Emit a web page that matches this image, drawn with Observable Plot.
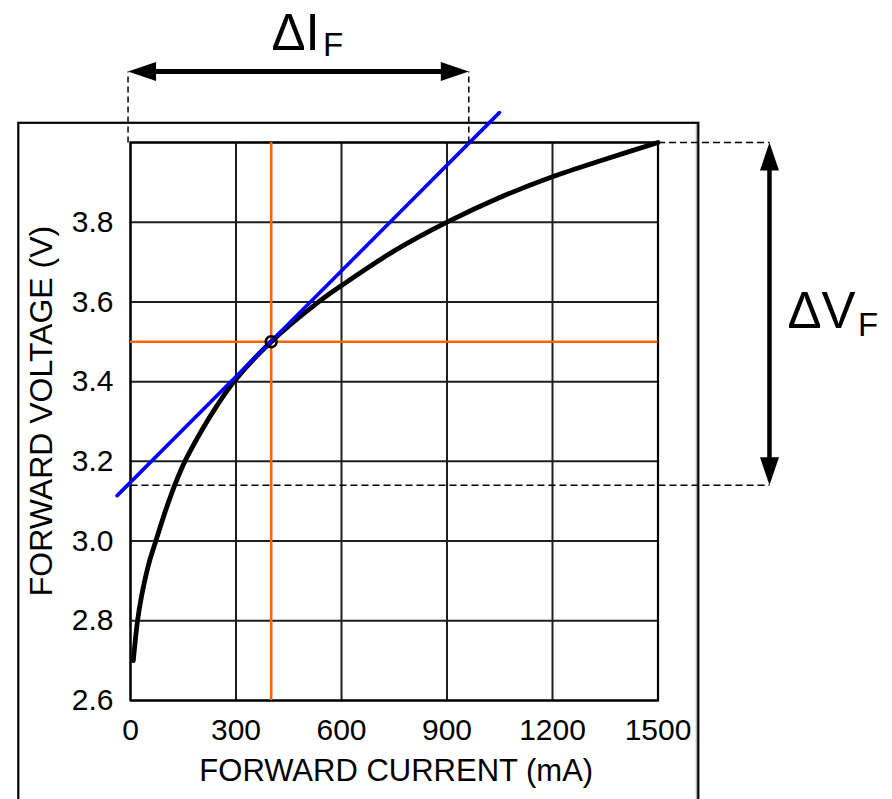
<!DOCTYPE html>
<html>
<head>
<meta charset="utf-8">
<script src="https://cdn.jsdelivr.net/npm/d3@7"></script>
<script src="https://cdn.jsdelivr.net/npm/@observablehq/plot@0.6"></script>
<style>
  html, body { margin: 0; padding: 0; background: #fff; overflow: hidden; }
  #chart svg { display: block; }
</style>
</head>
<body>
<div id="chart"></div>
<script>
// ---- Data ----
const currents = [8, 20, 31, 52, 72, 98, 124, 152, 204, 246, 294, 400, 535, 600, 750, 900, 1050, 1200, 1350, 1500];
const voltages = [2.70, 2.80, 2.86, 2.943, 3.0, 3.072, 3.136, 3.195, 3.28, 3.340, 3.4, 3.5, 3.6, 3.641, 3.728, 3.8, 3.862, 3.914, 3.958, 4.0];

const xTicks = [0, 300, 600, 900, 1200, 1500];
const yTicks = [2.6, 2.8, 3.0, 3.2, 3.4, 3.6, 3.8];
const yGrid = [2.6, 2.8, 3.0, 3.2, 3.4, 3.6, 3.8, 4.0];

const opCurrent = [400];
const opVoltage = [3.5];

const tangentI = [-38, 1049];
const tangentV = [3.114, 4.075];

const deltaIRange = [-7, 962];     // mA, where the tangent meets 3.14 V and 4.0 V
const deltaVRange = [3.14, 4.0];   // V
const deltaIArrowLevel = 4.178;    // V (annotation level above the plot)
const deltaVArrowLevel = 1817;     // mA (annotation level right of the plot)

const xTitle = "FORWARD CURRENT (mA)";
const yTitle = "FORWARD VOLTAGE (V)";

// ---- Build tables ----
const curve = currents.map((c, i) => ({i: c, v: voltages[i]}));
const tangent = tangentI.map((c, i) => ({i: c, v: tangentV[i]}));
const op = opCurrent.map((c, k) => ({i: c, v: opVoltage[k]}));

const W = 892, H = 799;
const mL = 130, mR = 234.5, mT = 142, mB = 99;
const mAperPx = 1500 / (W - mL - mR);
const VperPx = 1.4 / (H - mT - mB);
const headLen = 28, headHalf = 9.5;

const headRight = {draw(ctx) { ctx.moveTo(0, 0); ctx.lineTo(-headLen, -headHalf); ctx.lineTo(-headLen, headHalf); ctx.closePath(); }};
const headLeft  = {draw(ctx) { ctx.moveTo(0, 0); ctx.lineTo(headLen, -headHalf); ctx.lineTo(headLen, headHalf); ctx.closePath(); }};
const headUp    = {draw(ctx) { ctx.moveTo(0, 0); ctx.lineTo(-headHalf, headLen); ctx.lineTo(headHalf, headLen); ctx.closePath(); }};
const headDown  = {draw(ctx) { ctx.moveTo(0, 0); ctx.lineTo(-headHalf, -headLen); ctx.lineTo(headHalf, -headLen); ctx.closePath(); }};

const dashedV = deltaIRange.map(x => ({x1: x, x2: x, y1: deltaVRange[1], y2: deltaIArrowLevel}));
const dashedH = [
  {x1: currents[currents.length - 1], x2: deltaVArrowLevel, y1: deltaVRange[1], y2: deltaVRange[1]},
  {x1: 0, x2: deltaVArrowLevel, y1: deltaVRange[0], y2: deltaVRange[0]}
];
const shaftI = [{x1: deltaIRange[0] + 20 * mAperPx, x2: deltaIRange[1] - 20 * mAperPx, y1: deltaIArrowLevel, y2: deltaIArrowLevel}];
const shaftV = [{x1: deltaVArrowLevel, x2: deltaVArrowLevel, y1: deltaVRange[0] + 20 * VperPx, y2: deltaVRange[1] - 20 * VperPx}];

const midI = (deltaIRange[0] + deltaIRange[1]) / 2;
const midV = (deltaVRange[0] + deltaVRange[1]) / 2;

const font = "'Liberation Sans', Arial, Helvetica, sans-serif";

const chart = Plot.plot({
  width: W,
  height: H,
  marginLeft: mL,
  marginRight: mR,
  marginTop: mT,
  marginBottom: mB,
  style: {fontFamily: font, fontSize: "30px", color: "#000", background: "#fff"},
  x: {domain: [0, 1500]},
  y: {domain: [2.6, 4.0]},
  marks: [
    Plot.gridX(xTicks, {stroke: "#1e1e1e", strokeOpacity: 1, strokeWidth: 2}),
    Plot.gridY(yGrid, {stroke: "#1e1e1e", strokeOpacity: 1, strokeWidth: 2}),
    Plot.frame({stroke: "#000", strokeWidth: 2.2}),
    Plot.axisX(xTicks, {tickSize: 0, tickPadding: 18, fontSize: 30, label: null, tickFormat: d => String(d)}),
    Plot.axisY(yTicks, {tickSize: 0, tickPadding: 17, fontSize: 30, label: null, tickFormat: d => d.toFixed(1)}),
    Plot.ruleX(opCurrent, {stroke: "#ff6600", strokeWidth: 2.6}),
    Plot.ruleY(opVoltage, {stroke: "#ff6600", strokeWidth: 2.6}),
    Plot.line(curve, {x: "i", y: "v", stroke: "#000", strokeWidth: 4.8, curve: "catmull-rom"}),
    Plot.line(tangent, {x: "i", y: "v", stroke: "#0000ff", strokeWidth: 3.6}),
    Plot.dot(op, {x: "i", y: "v", r: 5.5, stroke: "#000", strokeWidth: 2.5, fill: "none"}),
    // Delta annotations
    Plot.link(dashedV, {x1: "x1", x2: "x2", y1: "y1", y2: "y2", stroke: "#000", strokeWidth: 1.5, strokeDasharray: "6,4"}),
    Plot.link(dashedH, {x1: "x1", x2: "x2", y1: "y1", y2: "y2", stroke: "#000", strokeWidth: 1.5, strokeDasharray: "7,4"}),
    Plot.link(shaftI, {x1: "x1", x2: "x2", y1: "y1", y2: "y2", stroke: "#000", strokeWidth: 5}),
    Plot.link(shaftV, {x1: "x1", x2: "x2", y1: "y1", y2: "y2", stroke: "#000", strokeWidth: 4.5}),
    Plot.dot([{x: deltaIRange[0], y: deltaIArrowLevel}], {x: "x", y: "y", symbol: headLeft, fill: "#000", stroke: "none", r: 10}),
    Plot.dot([{x: deltaIRange[1], y: deltaIArrowLevel}], {x: "x", y: "y", symbol: headRight, fill: "#000", stroke: "none", r: 10}),
    Plot.dot([{x: deltaVArrowLevel, y: deltaVRange[1]}], {x: "x", y: "y", symbol: headUp, fill: "#000", stroke: "none", r: 10}),
    Plot.dot([{x: deltaVArrowLevel, y: deltaVRange[0]}], {x: "x", y: "y", symbol: headDown, fill: "#000", stroke: "none", r: 10}),
    Plot.text([{x: midI, y: deltaIArrowLevel, t: "ΔI"}], {x: "x", y: "y", text: "t", textAnchor: "start", lineAnchor: "bottom", dx: -27, dy: -21.7, fontSize: 51, fill: "#000"}),
    Plot.text([{x: midI, y: deltaIArrowLevel, t: "F"}], {x: "x", y: "y", text: "t", textAnchor: "start", lineAnchor: "bottom", dx: 24.6, dy: -15.3, fontSize: 33, fill: "#000"}),
    Plot.text([{x: deltaVArrowLevel, y: midV, t: "ΔV"}], {x: "x", y: "y", text: "t", textAnchor: "start", lineAnchor: "bottom", dx: 18, dy: 14.6, fontSize: 51, fill: "#000"}),
    Plot.text([{x: deltaVArrowLevel, y: midV, t: "F"}], {x: "x", y: "y", text: "t", textAnchor: "start", lineAnchor: "bottom", dx: 88.5, dy: 22.6, fontSize: 33, fill: "#000"}),
    // Axis titles
    Plot.text([xTitle], {frameAnchor: "bottom", text: d => d, textAnchor: "middle", lineAnchor: "bottom", dy: 80, dx: 2, fontSize: 31, fill: "#000"}),
    Plot.text([yTitle], {frameAnchor: "left", text: d => d, textAnchor: "middle", rotate: -90, lineAnchor: "bottom", dx: -79, dy: -10.5, fontSize: 32, fill: "#000"})
  ]
});

document.getElementById("chart").appendChild(chart);

// Outer panel border (decorative), placed relative to the plot frame
const svg = d3.select(chart);
const x0 = chart.scale("x").apply(0);
const yTop = chart.scale("y").apply(4.0);
svg.insert("rect", ":first-child")
  .attr("x", x0 - 111.7).attr("y", yTop - 19.2)
  .attr("width", 680).attr("height", 900)
  .attr("fill", "none").attr("stroke", "#000").attr("stroke-width", 2.2);
svg.insert("line", ":first-child")
  .attr("x1", x0 + 566.3).attr("x2", x0 + 566.3)
  .attr("y1", yTop - 19.2).attr("y2", H + 10)
  .attr("stroke", "#999").attr("stroke-width", 1);
</script>
</body>
</html>
